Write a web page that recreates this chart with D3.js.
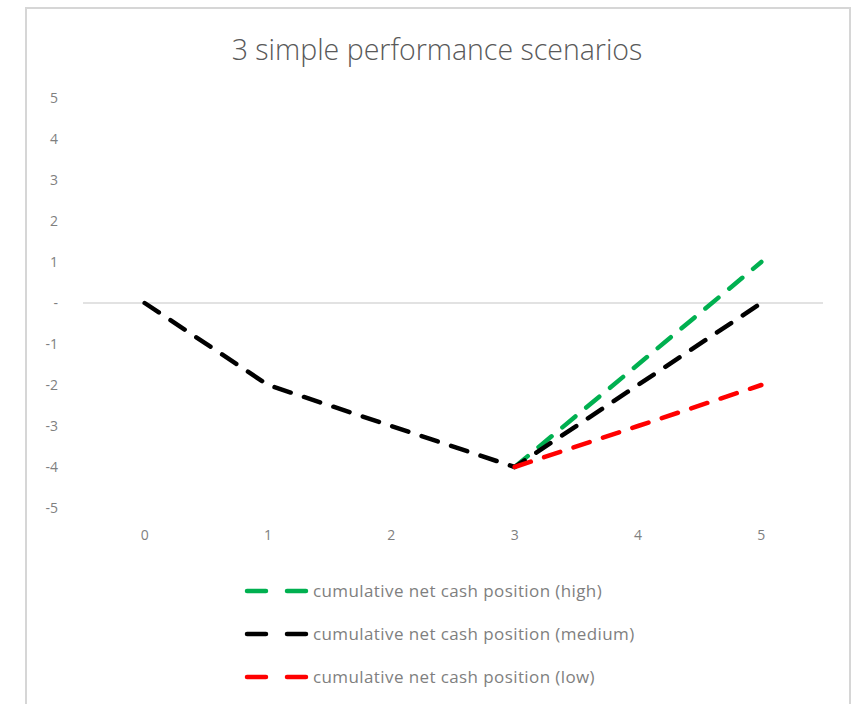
<!DOCTYPE html>
<html>
<head>
<meta charset="utf-8">
<script src="https://cdn.jsdelivr.net/npm/d3@7"></script>
<style>
  html, body { margin: 0; padding: 0; background: #fff; }
  svg { display: block; }
</style>
</head>
<body>
<svg id="chart" width="854" height="704"></svg>
<script>
// Periods on the category axis
const periods = [0, 1, 2, 3, 4, 5];
// Cumulative net cash position per scenario (null = no value for that period)
const highValues   = [null, null, null, -4, -1.5, 1];
const mediumValues = [0, -2, -3, -4, -2, 0];
const lowValues    = [null, null, null, -4, -3, -2];
// Value axis ticks and labels
const yTicks = [5, 4, 3, 2, 1, 0, -1, -2, -3, -4, -5];
const yTickLabels = ["5", "4", "3", "2", "1", "-", "-1", "-2", "-3", "-4", "-5"];
const seriesNames = [
  "cumulative net cash position (high)",
  "cumulative net cash position (medium)",
  "cumulative net cash position (low)"
];
const seriesColors = ["#00b050", "#000000", "#ff0000"];
const title = "3 simple performance scenarios";

const svg = d3.select("#chart");

// Chart frame
svg.append("rect")
  .attr("x", 26).attr("y", 8)
  .attr("width", 824).attr("height", 710)
  .attr("fill", "#fff")
  .attr("stroke", "#d6d6d6")
  .attr("stroke-width", 2);

svg.append("text")
  .attr("x", 437).attr("y", 60)
  .attr("text-anchor", "middle")
  .attr("font-family", "'Open Sans', sans-serif")
  .attr("font-weight", 300)
  .attr("font-size", 28.5)
  .attr("fill", "#595959")
  .text(title);

const plot = { left: 83, right: 823, top: 98, bottom: 508 };

const x = d3.scaleBand()
  .domain(periods)
  .range([plot.left, plot.right])
  .paddingInner(0).paddingOuter(0);
const xc = d => x(d) + x.bandwidth() / 2;

const y = d3.scaleLinear()
  .domain([-5, 5])
  .range([plot.bottom, plot.top]);

// Zero line
svg.append("line")
  .attr("x1", plot.left).attr("x2", plot.right)
  .attr("y1", y(0)).attr("y2", y(0))
  .attr("stroke", "#d9d9d9")
  .attr("stroke-width", 1.5);

// Value axis labels
const yAxis = d3.axisLeft(y)
  .tickValues(yTicks)
  .tickSize(0)
  .tickPadding(0)
  .tickFormat((d, i) => yTickLabels[i]);
const yg = svg.append("g")
  .attr("transform", `translate(58,0)`)
  .call(yAxis);
yg.select(".domain").remove();
yg.selectAll("text")
  .attr("font-family", "'Open Sans', sans-serif")
  .attr("font-size", 14)
  .attr("fill", "#7f7f7f");

// Category axis labels (placed below the plot)
const xAxis = d3.axisBottom(x).tickSize(0).tickPadding(0);
const xg = svg.append("g")
  .attr("transform", `translate(0,${plot.bottom + 22})`)
  .call(xAxis);
xg.select(".domain").remove();
xg.selectAll("text")
  .attr("font-family", "'Open Sans', sans-serif")
  .attr("font-size", 14)
  .attr("fill", "#7f7f7f");

// Scenario lines
const line = d3.line()
  .defined(d => d.v !== null)
  .x(d => xc(d.p))
  .y(d => y(d.v));

const allSeries = [highValues, mediumValues, lowValues];
allSeries.forEach((vals, i) => {
  svg.append("path")
    .datum(periods.map((p, j) => ({ p, v: vals[j] })))
    .attr("fill", "none")
    .attr("stroke", seriesColors[i])
    .attr("stroke-width", 4.5)
    .attr("stroke-dasharray", "17,14")
    .attr("stroke-linecap", "round")
    .attr("stroke-linejoin", "round")
    .attr("d", line);
});

// Legend
const legend = svg.append("g");
seriesNames.forEach((name, i) => {
  const ly = 591 + i * 43;
  legend.append("line")
    .attr("x1", 247).attr("x2", 306)
    .attr("y1", ly).attr("y2", ly)
    .attr("stroke", seriesColors[i])
    .attr("stroke-width", 4.5)
    .attr("stroke-dasharray", "19,21")
    .attr("stroke-linecap", "round");
  legend.append("text")
    .attr("x", 313).attr("y", ly + 6)
    .attr("font-family", "'Open Sans', sans-serif")
    .attr("font-size", 17)
    .attr("letter-spacing", 0.4)
    .attr("fill", "#7f7f7f")
    .text(name);
});
</script>
</body>
</html>
